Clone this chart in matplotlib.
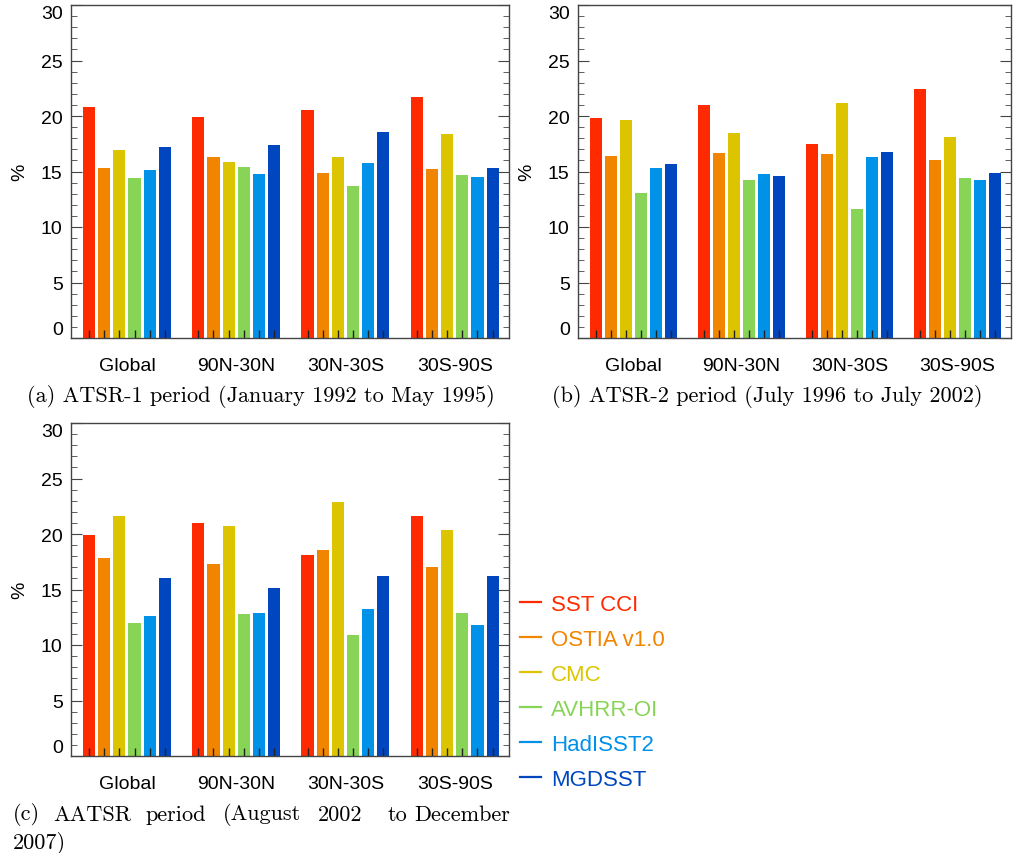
import matplotlib.pyplot as plt
import numpy as np
from matplotlib.lines import Line2D
from matplotlib.ticker import MultipleLocator

regions = ['Global', '90N-30N', '30N-30S', '30S-90S']
products = ['SST CCI', 'OSTIA v1.0', 'CMC', 'AVHRR-OI', 'HadISST2', 'MGDSST']
colors = ['#FF2A00', '#F28500', '#DCC500', '#88D456', '#0091E8', '#0047BF']

# values per product, one entry per region
atsr1 = {
    'SST CCI':    [20.8, 19.9, 20.5, 21.7],
    'OSTIA v1.0': [15.3, 16.3, 14.9, 15.2],
    'CMC':        [16.9, 15.9, 16.3, 18.4],
    'AVHRR-OI':   [14.4, 15.4, 13.7, 14.7],
    'HadISST2':   [15.1, 14.8, 15.8, 14.5],
    'MGDSST':     [17.2, 17.4, 18.6, 15.3],
}
atsr2 = {
    'SST CCI':    [19.8, 21.0, 17.5, 22.4],
    'OSTIA v1.0': [16.4, 16.7, 16.6, 16.0],
    'CMC':        [19.6, 18.5, 21.2, 18.1],
    'AVHRR-OI':   [13.1, 14.2, 11.6, 14.4],
    'HadISST2':   [15.3, 14.8, 16.3, 14.2],
    'MGDSST':     [15.7, 14.6, 16.8, 14.9],
}
aatsr = {
    'SST CCI':    [19.9, 21.0, 18.1, 21.6],
    'OSTIA v1.0': [17.8, 17.3, 18.6, 17.0],
    'CMC':        [21.6, 20.7, 22.9, 20.4],
    'AVHRR-OI':   [12.0, 12.8, 10.9, 12.9],
    'HadISST2':   [12.6, 12.9, 13.2, 11.8],
    'MGDSST':     [16.0, 15.1, 16.2, 16.2],
}

sans = 'Liberation Sans'
serif = 'cmr10'
group_step = 7.2
ymin, ymax = 0, 30


def panel(ax, data):
    base = np.arange(len(regions)) * group_step
    centers = []
    for j, p in enumerate(products):
        ax.bar(base + j, data[p], 0.8, color=colors[j], linewidth=0)
        centers.extend(base + j)
    ax.set_xlim(-1.19, 3 * group_step + 5 + 1.08)
    ax.set_ylim(ymin, ymax)

    ax.set_xticks(sorted(centers))
    ax.set_xticklabels([])
    ax.set_xticks(base + 2.5, regions, minor=True)
    ax.tick_params(axis='x', which='major', direction='in', length=6,
                   width=1, color='#222', bottom=True, top=False)
    ax.tick_params(axis='x', which='minor', length=0, pad=14,
                   labelsize=14)

    ax.yaxis.set_major_locator(MultipleLocator(5))
    ax.yaxis.set_minor_locator(MultipleLocator(1))
    ax.tick_params(axis='y', which='both', direction='in', left=True,
                   right=True, color='#444', labelsize=14, pad=6)
    ax.tick_params(axis='y', which='major', length=8)
    ax.tick_params(axis='y', which='minor', length=4)
    for lab in ax.get_xticklabels(minor=True) + ax.get_yticklabels():
        lab.set_fontfamily(sans)

    ax.set_ylabel('%', fontsize=14, fontfamily=sans, labelpad=9)
    for s in ax.spines.values():
        s.set_color('#444')
        s.set_linewidth(1.0)


W, H = 1013, 854
fig = plt.figure(figsize=(W / 100, H / 100), dpi=100)

ax_a = fig.add_axes([71 / W, 1 - 339 / H, 438 / W, 333 / H])
ax_b = fig.add_axes([578 / W, 1 - 339 / H, 433 / W, 333 / H])
ax_c = fig.add_axes([71 / W, 1 - 757 / H, 438 / W, 333 / H])
panel(ax_a, atsr1)
panel(ax_b, atsr2)
panel(ax_c, aatsr)

cap = dict(fontfamily=serif, fontsize=16, va='center')
fig.text(261 / W, 1 - 397 / H, '(a) ATSR-1 period (January 1992 to May 1995)',
         ha='center', **cap)
fig.text(767 / W, 1 - 397 / H, '(b) ATSR-2 period (July 1996 to July 2002)',
         ha='center', **cap)
# justified two-line caption for (c)
words = ['(c)', 'AATSR', 'period', '(August', '2002', 'to', 'December']
word_x = [13, 53, 145, 223, 318, 388, 414]
for w, x in zip(words, word_x):
    fig.text(x / W, 1 - 815 / H, w, ha='left', **cap)
fig.text(13 / W, 1 - 843 / H, '2007)', ha='left', **cap)

handles = [Line2D([], [], color=c, lw=1.6) for c in colors]
fig.legend(handles, products, loc='center left',
           bbox_to_anchor=(520 / W, 1 - 693 / H), frameon=False,
           prop={'family': sans, 'size': 16}, labelcolor='linecolor',
           handlelength=0.95, handletextpad=0.45, borderpad=0,
           borderaxespad=0, labelspacing=0.63)

# end labels sit inside the axis range, as in the original
fig.canvas.draw()
for ax in (ax_a, ax_b, ax_c):
    for tick in ax.yaxis.get_major_ticks():
        loc = tick.get_loc()
        if np.isclose(loc, ymin):
            tick.label1.set_va('bottom')
        elif np.isclose(loc, ymax):
            tick.label1.set_va('top')

fig.savefig('out.png', dpi=100)
